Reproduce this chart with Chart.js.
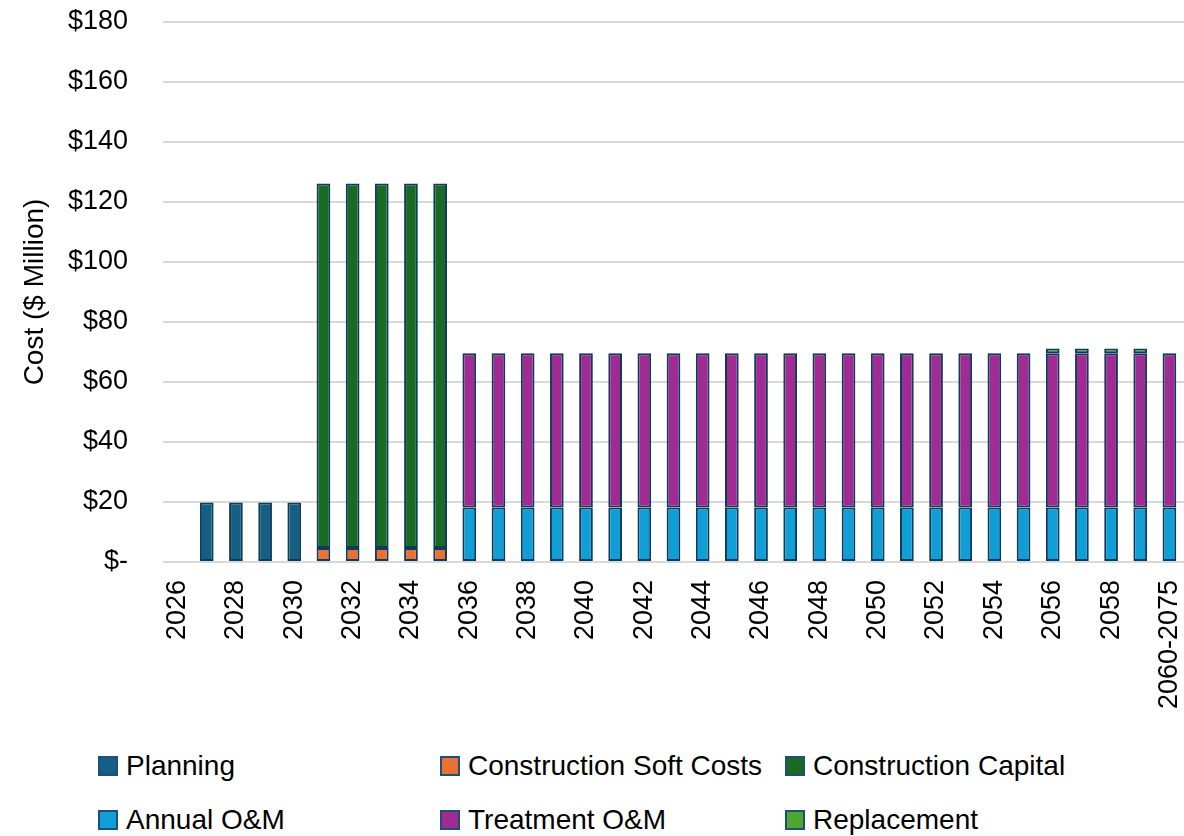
<!DOCTYPE html>
<html>
<head>
<meta charset="utf-8">
<script src="https://cdn.jsdelivr.net/npm/chart.js@4"></script>
<style>
    body { margin: 0; background: #fff; }
    #wrap { position: relative; width: 1184px; height: 836px; }
    #chart-box { position: absolute; left: 0; top: 0; width: 1184px; height: 740px; }
    #legend { position: absolute; left: 0; top: 740px; width: 1184px; height: 96px; font-family: "Liberation Sans Narrow", "Liberation Sans", Arial, sans-serif; font-size: 28px; color: #000; }
    .legend-item { position: absolute; display: flex; align-items: center; white-space: nowrap; }
    .legend-box { width: 16px; height: 16px; border: 2px solid #1f4e79; margin-right: 8px; box-sizing: content-box; }
</style>
</head>
<body>
<div id="wrap">
    <div id="chart-box"><canvas id="cost-chart"></canvas></div>
    <div id="legend"></div>
</div>
<script>
// Years (2060-2075 is one lumped bar)
const years = ['2026', '2027', '2028', '2029', '2030', '2031', '2032', '2033', '2034', '2035',
    '2036', '2037', '2038', '2039', '2040', '2041', '2042', '2043', '2044', '2045',
    '2046', '2047', '2048', '2049', '2050', '2051', '2052', '2053', '2054', '2055',
    '2056', '2057', '2058', '2059', '2060-2075'];

// Cost in $ million per year
const planning = [0, 19.8, 19.8, 19.8, 19.8, 0, 0, 0, 0, 0,
    0, 0, 0, 0, 0, 0, 0, 0, 0, 0, 0, 0, 0, 0, 0, 0, 0, 0, 0, 0, 0, 0, 0, 0, 0];
const softCosts = [0, 0, 0, 0, 0, 4.7, 4.7, 4.7, 4.7, 4.7,
    0, 0, 0, 0, 0, 0, 0, 0, 0, 0, 0, 0, 0, 0, 0, 0, 0, 0, 0, 0, 0, 0, 0, 0, 0];
const constructionCapital = [0, 0, 0, 0, 0, 121.5, 121.5, 121.5, 121.5, 121.5,
    0, 0, 0, 0, 0, 0, 0, 0, 0, 0, 0, 0, 0, 0, 0, 0, 0, 0, 0, 0, 0, 0, 0, 0, 0];
const annualOM = [0, 0, 0, 0, 0, 0, 0, 0, 0, 0,
    18.2, 18.2, 18.2, 18.2, 18.2, 18.2, 18.2, 18.2, 18.2, 18.2,
    18.2, 18.2, 18.2, 18.2, 18.2, 18.2, 18.2, 18.2, 18.2, 18.2,
    18.2, 18.2, 18.2, 18.2, 18.2];
const treatmentOM = [0, 0, 0, 0, 0, 0, 0, 0, 0, 0,
    51.4, 51.4, 51.4, 51.4, 51.4, 51.4, 51.4, 51.4, 51.4, 51.4,
    51.4, 51.4, 51.4, 51.4, 51.4, 51.4, 51.4, 51.4, 51.4, 51.4,
    51.4, 51.4, 51.4, 51.4, 51.4];
const replacement = [0, 0, 0, 0, 0, 0, 0, 0, 0, 0,
    0, 0, 0, 0, 0, 0, 0, 0, 0, 0, 0, 0, 0, 0, 0, 0, 0, 0, 0, 0,
    1.6, 1.6, 1.6, 1.6, 0];

// Y axis ticks
const yTicks = [0, 20, 40, 60, 80, 100, 120, 140, 160, 180];

const borderCol = '#0e3a5c';

function makeSet(label, data, color) {
    return {
        label: label,
        data: data.map(v => v === 0 ? null : v),
        backgroundColor: color,
        borderColor: borderCol,
        borderWidth: 2,
        borderSkipped: false,
        barPercentage: 0.47,
        categoryPercentage: 1.0
    };
}

const datasets = [
    makeSet('Planning', planning, '#156082'),
    makeSet('Construction Soft Costs', softCosts, '#e97132'),
    makeSet('Construction Capital', constructionCapital, '#196b24'),
    makeSet('Annual O&M', annualOM, '#0f9ed5'),
    makeSet('Treatment O&M', treatmentOM, '#a02b93'),
    makeSet('Replacement', replacement, '#4ea72e')
];

const tickFont = { family: 'Liberation Sans, Arial, sans-serif', size: 27 };

const chart = new Chart(document.getElementById('cost-chart'), {
    type: 'bar',
    data: { labels: years, datasets: datasets },
    options: {
        responsive: true,
        maintainAspectRatio: false,
        animation: false,
        layout: { padding: { top: 22, right: 0, left: 0, bottom: 0 } },
        plugins: {
            legend: { display: false },
            tooltip: { enabled: false }
        },
        scales: {
            x: {
                stacked: true,
                grid: { display: false },
                border: { display: false },
                ticks: {
                    color: '#000',
                    font: tickFont,
                    autoSkip: false,
                    minRotation: 90,
                    maxRotation: 90,
                    padding: 10,
                    callback: function (val, idx) {
                        return idx % 2 === 0 ? years[idx] : '';
                    }
                },
                afterFit: scale => {
                    scale.height = 178;
                    scale.paddingLeft = 0;
                    scale.paddingRight = 0;
                }
            },
            y: {
                stacked: true,
                min: 0,
                max: 180,
                afterBuildTicks: scale => { scale.ticks = yTicks.map(v => ({ value: v })); },
                grid: { color: '#d9d9d9', lineWidth: 2, drawTicks: false },
                border: { display: false },
                ticks: {
                    color: '#000',
                    font: tickFont,
                    padding: 35,
                    callback: v => v === 0 ? '$-' : '$' + v
                },
                title: {
                    display: true,
                    text: 'Cost ($ Million)',
                    color: '#000',
                    font: { family: 'Liberation Sans, Arial, sans-serif', size: 28 },
                    padding: { top: 18, bottom: 6 }
                },
                afterFit: scale => {
                    scale.width = 163;
                    scale.paddingTop = 0;
                    scale.paddingBottom = 0;
                }
            }
        }
    }
});

// Legend laid out in three columns like the original
const legendPos = [
    [98, 26], [440, 26], [785, 26],
    [98, 80], [440, 80], [785, 80]
];
const legendEl = document.getElementById('legend');
chart.data.datasets.forEach((ds, i) => {
    const item = document.createElement('div');
    item.className = 'legend-item';
    item.style.left = legendPos[i][0] + 'px';
    item.style.top = (legendPos[i][1] - 18) + 'px';
    item.style.height = '36px';
    item.innerHTML = '<span class="legend-box" style="background:' + ds.backgroundColor + '"></span>' +
        '<span>' + ds.label.replace('&', '&amp;') + '</span>';
    legendEl.appendChild(item);
});
</script>
</body>
</html>
